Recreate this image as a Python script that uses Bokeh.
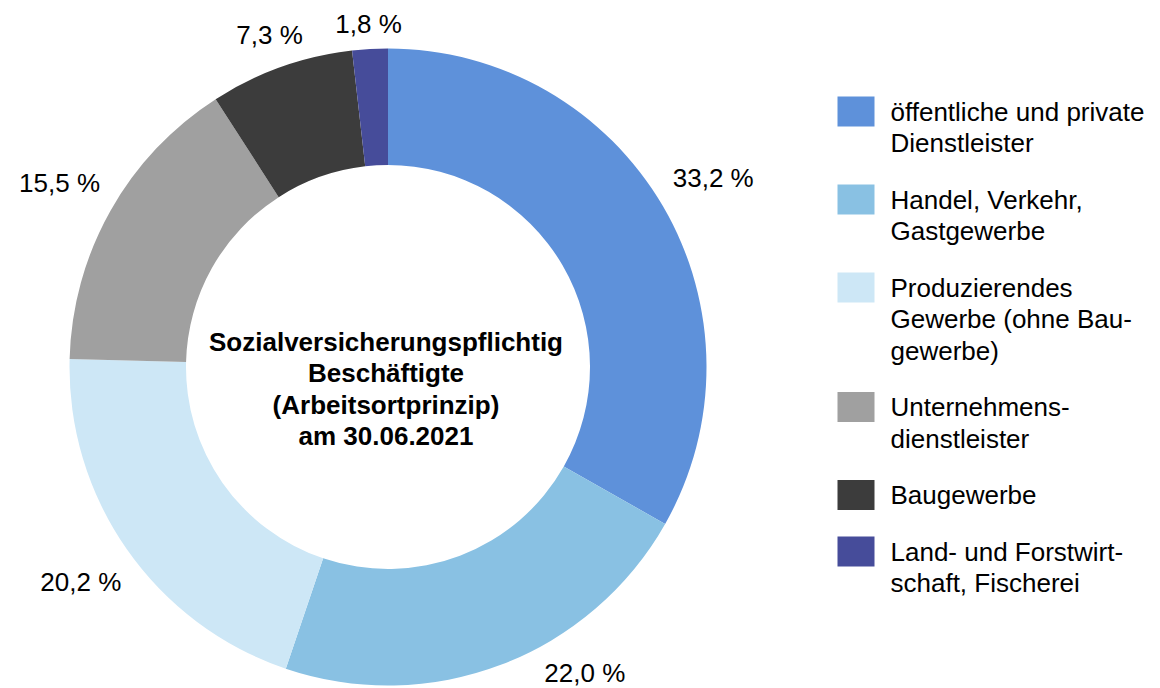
import math
from bokeh.plotting import figure
from bokeh.models import Range1d, ColumnDataSource
from bokeh.core.properties import value
from bokeh.embed import file_html
from bokeh.resources import INLINE

# ---------------- data ----------------
categories = [
    "öffentliche und private\nDienstleister",
    "Handel, Verkehr,\nGastgewerbe",
    "Produzierendes\nGewerbe (ohne Bau-\ngewerbe)",
    "Unternehmens-\ndienstleister",
    "Baugewerbe",
    "Land- und  Forstwirt-\nschaft, Fischerei",
]
shares = [33.2, 22.0, 20.2, 15.5, 7.3, 1.8]
center_title = ["Sozialversicherungspflichtig", "Beschäftigte",
                "(Arbeitsortprinzip)", "am 30.06.2021"]

# ---------------- style ----------------
palette = ["#5E91DA", "#89C1E3", "#CDE7F6", "#A0A0A0", "#3C3C3C", "#464C9A"]
FONT = value("Liberation Sans")
FS = 26
W, H = 1160, 688
cx, cy = 387.5, 366.5          # donut centre in pixels (y down)
R_OUT, R_IN = 318.5, 202.0
LABEL_GAP = 23
TXT_FIX = -9                   # renderer baseline correction (pixels)

def ty(y):  # pixel (y down) -> data y
    return H - y

def tty(y):  # text baseline pixel -> data y
    return H - (y + TXT_FIX)

CHAR_W = {",": 0.278, " ": 0.278, "%": 0.889, ".": 0.278}
def text_width(s):
    return sum(CHAR_W.get(c, 0.556) for c in s) * FS

p = figure(width=W, height=H, x_range=Range1d(0, W), y_range=Range1d(0, H),
           output_backend="svg", toolbar_location=None, min_border=0,
           x_axis_location=None, y_axis_location=None)
p.grid.visible = False
p.outline_line_color = None
p.background_fill_color = "white"
p.border_fill_color = "white"

# ---------------- wedges ----------------
total = sum(shares)
starts, ends, mids = [], [], []
cum = 0.0
for v in shares:
    a0 = cum / total * 360.0
    a1 = (cum + v) / total * 360.0
    starts.append(math.pi / 2 - math.radians(a0))
    ends.append(math.pi / 2 - math.radians(a1))
    mids.append((a0 + a1) / 2)
    cum += v

src = ColumnDataSource(dict(start=starts, end=ends, color=palette[:len(shares)]))
p.annular_wedge(x=cx, y=ty(cy), inner_radius=R_IN, outer_radius=R_OUT,
                start_angle="start", end_angle="end", direction="clock",
                fill_color="color", line_color=None, source=src)

# ---------------- value labels ----------------
def label_pos(phi, hw):
    r = math.radians(phi)
    d = R_OUT + LABEL_GAP + abs(math.sin(r)) * hw
    return cx + d * math.sin(r), cy - d * math.cos(r)

Y_MAX = H - 16
lx, ly, ltxt = [], [], []
for v, phi in zip(shares, mids):
    txt = f"{v:.1f}".replace(".", ",") + " %"
    hw = text_width(txt) / 2
    x, y = label_pos(phi, hw)
    if y > Y_MAX:
        if phi < 180:
            lo, hi = 90.0, phi
        else:
            lo, hi = phi, 270.0
        for _ in range(60):
            m = (lo + hi) / 2
            _, ym = label_pos(m, hw)
            if phi < 180:
                if ym > Y_MAX:
                    hi = m
                else:
                    lo = m
            else:
                if ym > Y_MAX:
                    lo = m
                else:
                    hi = m
        x, y = label_pos((lo + hi) / 2, hw)
    lx.append(x)
    ly.append(tty(y + 0.358 * FS))
    ltxt.append(txt)

p.text(x=lx, y=ly, text=ltxt, text_font=FONT, text_font_size=f"{FS}px",
       text_align="center", text_baseline="alphabetic", text_color="#000000")

# ---------------- centre title ----------------
LINE = 31.5
cty = [tty(cy - 16.5 + LINE * i) for i in range(len(center_title))]
p.text(x=[cx - 2] * len(center_title), y=cty, text=center_title, text_font=FONT,
       text_font_size=f"{FS}px", text_font_style="bold", text_align="center",
       text_baseline="alphabetic", text_color="#000000")

# ---------------- legend ----------------
SQ_L, SQ_W, SQ_H = 837, 37, 30
TX = 890
top = 96.0
qs = dict(left=[], right=[], top=[], bottom=[], color=[])
tx, tyy, tt = [], [], []
for cat, col in zip(categories, palette):
    lines = cat.split("\n")
    qs["left"].append(SQ_L)
    qs["right"].append(SQ_L + SQ_W)
    qs["top"].append(ty(top))
    qs["bottom"].append(ty(top + SQ_H))
    qs["color"].append(col)
    for i, ln in enumerate(lines):
        tx.append(TX)
        tyy.append(tty(top + 24 + LINE * i))
        tt.append(ln)
    top += LINE * len(lines) + 25

p.quad(left="left", right="right", top="top", bottom="bottom",
       fill_color="color", line_color=None, source=ColumnDataSource(qs))
p.text(x=tx, y=tyy, text=tt, text_font=FONT, text_font_size=f"{FS}px",
       text_align="left", text_baseline="alphabetic", text_color="#000000")

open("out.html", "w").write(file_html(p, INLINE))
